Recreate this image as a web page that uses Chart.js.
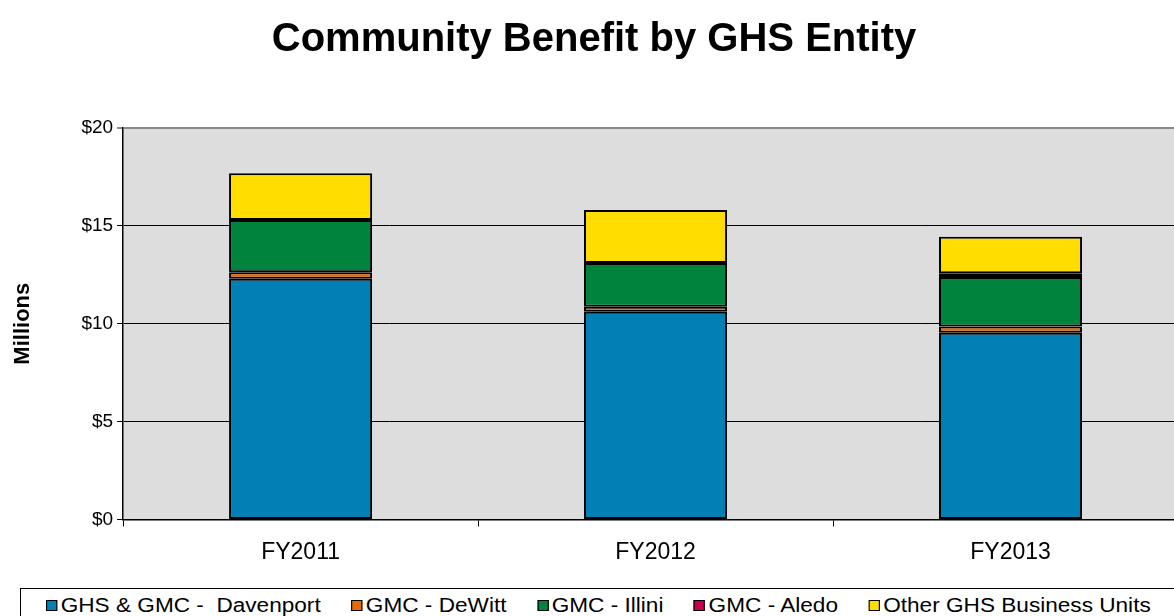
<!DOCTYPE html>
<html><head><meta charset="utf-8">
<script src="https://cdn.jsdelivr.net/npm/chart.js@4"></script>
<style>
html,body{margin:0;padding:0;background:#fff;overflow:hidden;width:1174px;height:616px}
#wrap{position:relative;width:1174px;height:616px;overflow:hidden}
#c{position:absolute;left:0;top:0}
#legend{position:absolute;left:20px;top:588px;width:1200px;height:40px;border:1px solid #000;box-sizing:border-box;background:#fff}
#legend .inner{position:absolute;left:25px;top:4px;display:flex;align-items:center;white-space:nowrap;transform:scaleX(1.13);transform-origin:0 0;
  font-family:'Liberation Sans',Arial,sans-serif;font-size:20px;color:#000;line-height:24px}
#legend .item{display:flex;align-items:center;margin-right:27px}
#legend .box{width:8px;height:9px;border:1px solid #000;margin-right:3px}
</style>
</head><body>
<div id="wrap">
<canvas id="c" width="1188" height="616"></canvas>
<div id="legend"><div class="inner" id="legInner"></div></div>
</div>
<script>
const categories = ['FY2011', 'FY2012', 'FY2013'];
const seriesNames = ['GHS & GMC -  Davenport', 'GMC - DeWitt', 'GMC - Illini', 'GMC - Aledo', 'Other GHS Business Units'];
const davenport = [12.30, 10.61, 9.54];
const dewitt = [0.33, 0.25, 0.32];
const illini = [2.67, 2.24, 2.53];
const aledo = [0, 0, 0.19];
const other = [2.39, 2.71, 1.86];
const seriesColors = ['#0080B4', '#E46C0A', '#00843D', '#C8004B', '#FFDD00'];
const yMin = 0, yMax = 20, yStep = 5;

const FONT = "'Liberation Sans', Arial, sans-serif";
const values = [davenport, dewitt, illini, aledo, other];

// HTML legend built from the series arrays
const leg = document.getElementById('legInner');
seriesNames.forEach((n, i) => {
  const it = document.createElement('div'); it.className = 'item';
  const b = document.createElement('span'); b.className = 'box'; b.style.background = seriesColors[i];
  const t = document.createElement('span'); t.textContent = n; t.style.whiteSpace = 'pre';
  it.appendChild(b); it.appendChild(t); leg.appendChild(it);
});

const bgPlugin = {
  id: 'plotBg',
  beforeDraw(chart) {
    const {ctx, chartArea: a} = chart;
    ctx.save();
    ctx.fillStyle = '#DCDDDC';
    ctx.fillRect(a.left, a.top, a.right - a.left, a.bottom - a.top);
    ctx.restore();
  }
};

new Chart(document.getElementById('c'), {
  type: 'bar',
  data: {
    labels: categories,
    datasets: seriesNames.map((n, i) => ({
      label: n,
      data: values[i],
      backgroundColor: seriesColors[i],
      borderColor: '#000',
      borderWidth: c => (c.raw === 0 ? 0 : 2),
      borderSkipped: false,
      categoryPercentage: 1,
      barPercentage: 0.403
    }))
  },
  options: {
    responsive: false,
    animation: false,
    devicePixelRatio: 1,
    layout: {padding: {left: 0, right: 0, top: 0, bottom: 38}},
    plugins: {
      title: {
        display: true,
        text: 'Community Benefit by GHS Entity',
        color: '#000',
        font: {family: FONT, size: 40, weight: 'bold'},
        padding: {top: 16, bottom: 64}
      },
      legend: {display: false},
      tooltip: {enabled: false}
    },
    scales: {
      x: {
        stacked: true,
        grid: {offset: true, drawOnChartArea: false, color: '#000', tickLength: 7},
        border: {color: '#000', width: 1.5},
        ticks: {color: '#000', font: {family: FONT, size: 23}, padding: 12}
      },
      y: {
        stacked: true,
        min: yMin, max: yMax,
        ticks: {stepSize: yStep, color: '#000', font: {family: FONT, size: 19}, padding: 4,
          callback: v => '$' + v},
        grid: {color: c => c.tick && c.tick.value === yMax ? '#8A8A8A' : '#000', lineWidth: c => c.tick && c.tick.value === yMax ? 2 : 1, tickLength: 6},
        border: {color: '#000', width: 1.5},
        title: {display: true, text: 'Millions', color: '#000', font: {family: FONT, size: 22, weight: 'bold'}, padding: {top: 10, bottom: 41}}
      }
    }
  },
  plugins: [bgPlugin]
});
</script>
</body></html>
